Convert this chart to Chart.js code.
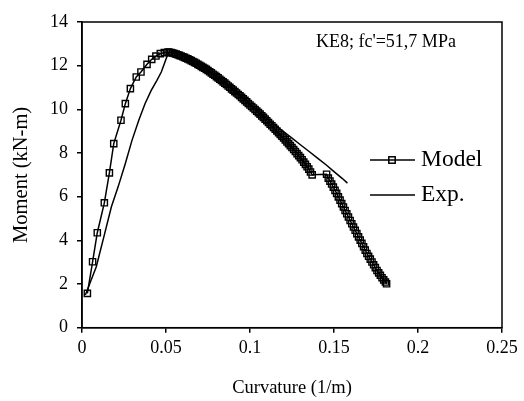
<!DOCTYPE html>
<html>
<head>
<meta charset="utf-8">
<script src="https://cdn.jsdelivr.net/npm/chart.js@4/dist/chart.umd.min.js"></script>
<style>
  html, body { margin: 0; padding: 0; background: #fff; }
  #wrap { width: 524px; height: 401px; }
</style>
</head>
<body>
<div id="wrap"><canvas id="c" width="524" height="401"></canvas></div>
<script>
// ---- Data ----
const modelX = [0.0032, 0.0063, 0.0091, 0.0133, 0.0163, 0.0189, 0.0232, 0.0258, 0.0288, 0.0323,
  0.0351, 0.0387, 0.0415, 0.044, 0.0466, 0.049, 0.0512,
  0.052, 0.053, 0.054, 0.055, 0.056, 0.057, 0.058, 0.059, 0.060, 0.061, 0.062, 0.063, 0.064,
  0.065, 0.066, 0.067, 0.068, 0.069, 0.070, 0.071, 0.072, 0.073, 0.074, 0.075, 0.076, 0.077,
  0.078, 0.079, 0.080, 0.081, 0.082, 0.083, 0.084, 0.085, 0.086, 0.087, 0.088, 0.089, 0.090,
  0.091, 0.092, 0.093, 0.094, 0.095, 0.096, 0.097, 0.098, 0.099, 0.100, 0.101, 0.102, 0.103,
  0.104, 0.105, 0.106, 0.107, 0.108, 0.109, 0.110, 0.111, 0.112, 0.113, 0.114, 0.115, 0.116,
  0.117, 0.118, 0.119, 0.120, 0.121, 0.122, 0.123, 0.124, 0.125, 0.126, 0.127, 0.128, 0.129,
  0.130, 0.131, 0.132, 0.133, 0.134, 0.135, 0.136, 0.137,
  0.1456, 0.1466, 0.1476, 0.1486, 0.1496, 0.1506, 0.1516, 0.1526, 0.1536, 0.1546, 0.1556,
  0.1566, 0.1576, 0.1586, 0.1596, 0.1606, 0.1616, 0.1626, 0.1636, 0.1646, 0.1656, 0.1666,
  0.1676, 0.1686, 0.1696, 0.1706, 0.1716, 0.1726, 0.1736, 0.1746, 0.1756, 0.1766, 0.1776,
  0.1786, 0.1796, 0.1806, 0.1813];
const modelY = [1.57, 3.02, 4.35, 5.72, 7.09, 8.43, 9.5, 10.26, 10.95, 11.48,
  11.71, 12.06, 12.29, 12.44, 12.55, 12.6, 12.62,
  12.61, 12.60, 12.58, 12.56, 12.53, 12.50, 12.47, 12.44, 12.41, 12.38, 12.34, 12.31, 12.27,
  12.23, 12.19, 12.15, 12.11, 12.06, 12.02, 11.97, 11.92, 11.88, 11.83, 11.78, 11.72, 11.67,
  11.61, 11.56, 11.50, 11.44, 11.38, 11.32, 11.26, 11.20, 11.14, 11.07, 11.01, 10.94, 10.88,
  10.81, 10.75, 10.68, 10.62, 10.55, 10.48, 10.41, 10.34, 10.27, 10.20, 10.13, 10.06, 9.99,
  9.92, 9.85, 9.78, 9.70, 9.63, 9.55, 9.48, 9.40, 9.32, 9.25, 9.17, 9.09, 9.01,
  8.93, 8.85, 8.77, 8.69, 8.60, 8.51, 8.43, 8.34, 8.25, 8.16, 8.07, 7.97, 7.88,
  7.79, 7.69, 7.58, 7.48, 7.37, 7.26, 7.13, 7.00,
  7.03, 6.85, 6.71, 6.58, 6.44, 6.29, 6.15, 5.99, 5.84, 5.68, 5.53,
  5.37, 5.22, 5.07, 4.91, 4.76, 4.61, 4.46, 4.31, 4.16, 4.01, 3.86,
  3.71, 3.55, 3.40, 3.27, 3.14, 3.01, 2.88, 2.75, 2.62, 2.51, 2.40,
  2.29, 2.19, 2.09, 2.01];
const expX = [0.002, 0.0085, 0.013, 0.0175, 0.0215, 0.0258, 0.0298, 0.0338, 0.0375, 0.0412,
  0.0446, 0.0472, 0.049, 0.0508, 0.052, 0.055, 0.06, 0.065, 0.07, 0.075, 0.08, 0.085, 0.09,
  0.095, 0.1, 0.105, 0.11, 0.115, 0.12, 0.125, 0.13, 0.135, 0.14, 0.1456, 0.15, 0.155, 0.158];
const expY = [1.5, 2.79, 4.16, 5.54, 6.45, 7.52, 8.59, 9.5, 10.26, 10.87,
  11.33, 11.71, 12.09, 12.47, 12.62, 12.58, 12.45, 12.26, 12.05, 11.82, 11.55, 11.25, 10.95,
  10.6, 10.25, 9.9, 9.58, 9.27, 8.98, 8.68, 8.38, 8.08, 7.78, 7.44, 7.15, 6.83, 6.62];
const xTickLabels = ['0', '0.05', '0.1', '0.15', '0.2', '0.25'];
const yTickLabels = ['0', '2', '4', '6', '8', '10', '12', '14'];
const seriesNames = ['Model', 'Exp.'];
const xTitle = 'Curvature (1/m)';
const yTitle = 'Moment (kN-m)';
const noteText = "KE8; fc'=51,7 MPa";

// ---- Build ----
const toPts = (xs, ys) => xs.map((x, i) => ({ x: x, y: ys[i] }));
const FONT = '"Liberation Serif", "Times New Roman", serif';

const framePlugin = {
  id: 'frame',
  afterDatasetsDraw(chart) {
    const { ctx, chartArea: a } = chart;
    ctx.save();
    ctx.strokeStyle = '#000';
    ctx.lineWidth = 1.5;
    ctx.strokeRect(a.left, a.top, a.right - a.left, a.bottom - a.top);
    // note text
    ctx.fillStyle = '#000';
    ctx.font = '18px ' + FONT;
    ctx.textBaseline = 'middle';
    ctx.textAlign = 'left';
    ctx.fillText(noteText, 316, 42);
    // legend
    const items = chart.data.datasets;
    const ys = [160, 195];
    items.forEach((ds, i) => {
      const y = ys[i];
      ctx.strokeStyle = ds.borderColor;
      ctx.lineWidth = ds.borderWidth;
      ctx.beginPath();
      ctx.moveTo(370, y);
      ctx.lineTo(415, y);
      ctx.stroke();
      if (ds.pointRadius > 0) {
        const s = 3.2;
        ctx.lineWidth = 1.5;
        ctx.strokeRect(392 - s, y - s, 2 * s, 2 * s);
      }
      ctx.font = '23.5px ' + FONT;
      ctx.fillStyle = '#000';
      ctx.fillText(ds.label, 421, y);
    });
    ctx.restore();
  }
};

new Chart(document.getElementById('c'), {
  type: 'scatter',
  data: {
    datasets: [
      {
        label: seriesNames[0],
        data: toPts(modelX, modelY),
        showLine: true,
        borderColor: '#000',
        borderWidth: 1.5,
        pointStyle: 'rect',
        pointRadius: 4.4,
        pointBorderWidth: 1.4,
        pointBorderColor: '#000',
        pointBackgroundColor: 'rgba(0,0,0,0)',
        tension: 0
      },
      {
        label: seriesNames[1],
        data: toPts(expX, expY),
        showLine: true,
        borderColor: '#000',
        borderWidth: 1.5,
        pointRadius: 0,
        tension: 0
      }
    ]
  },
  options: {
    responsive: false,
    animation: false,
    events: [],
    layout: { padding: { left: 0, top: 22, right: 22, bottom: 0 } },
    plugins: { legend: { display: false }, tooltip: { enabled: false } },
    scales: {
      x: {
        type: 'linear',
        min: 0, max: 0.25,
        afterFit(s) { s.height = 73.3; },
        ticks: {
          stepSize: 0.05,
          color: '#000',
          font: { family: FONT, size: 18 },
          padding: 5,
          maxRotation: 0,
          callback: (v, i) => xTickLabels[i]
        },
        grid: { drawOnChartArea: false, drawTicks: true, tickLength: 5, color: '#000', lineWidth: 1.5 },
        border: { color: '#000', width: 1.5 },
        title: { display: true, text: xTitle, color: '#000', font: { family: FONT, size: 18.5 }, padding: { top: 0, bottom: 2 } }
      },
      y: {
        type: 'linear',
        min: 0, max: 14,
        afterFit(s) { s.width = 82; },
        ticks: {
          stepSize: 2,
          color: '#000',
          font: { family: FONT, size: 18 },
          padding: 9,
          callback: (v, i) => yTickLabels[i]
        },
        grid: { drawOnChartArea: false, drawTicks: true, tickLength: 5, color: '#000', lineWidth: 1.5 },
        border: { color: '#000', width: 1.5 },
        title: { display: true, text: yTitle, color: '#000', font: { family: FONT, size: 20.5 }, padding: { top: 9, bottom: 0 } }
      }
    }
  },
  plugins: [framePlugin]
});
</script>
</body>
</html>
